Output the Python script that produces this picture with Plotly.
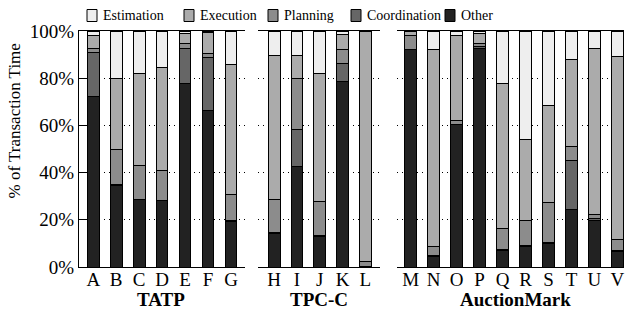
import plotly.graph_objects as go

# ---------------- data ----------------
series_names = ["Other", "Coordination", "Planning", "Execution", "Estimation"]
series_colors = ["#222222", "#666666", "#8c8c8c", "#ababab", "#eeeeee"]

tatp_cats = ["A", "B", "C", "D", "E", "F", "G"]
tatp_other = [72.2, 34.5, 28.4, 28.0, 77.8, 66.2, 19.2]
tatp_coord = [18.8, 0.4, 0.3, 0.3, 14.8, 22.7, 0.3]
tatp_plan = [1.6, 15.0, 14.1, 12.7, 1.9, 1.6, 11.4]
tatp_exec = [5.3, 30.1, 39.3, 43.6, 4.5, 8.8, 55.0]
tatp_est = [2.1, 20.0, 17.9, 15.4, 1.0, 0.7, 14.1]

tpcc_cats = ["H", "I", "J", "K", "L"]
tpcc_other = [14.3, 42.5, 13.1, 78.8, 0.0]
tpcc_coord = [0.3, 15.8, 0.3, 7.5, 0.3]
tpcc_plan = [14.2, 21.7, 14.3, 5.9, 2.2]
tpcc_exec = [61.0, 9.8, 54.4, 6.5, 97.5]
tpcc_est = [10.2, 10.2, 17.9, 1.3, 0.0]

am_cats = ["M", "N", "O", "P", "Q", "R", "S", "T", "U", "V"]
am_other = [92.0, 4.4, 60.2, 92.6, 7.2, 8.9, 9.9, 24.4, 19.5, 6.5]
am_coord = [0.3, 0.3, 0.2, 1.0, 0.3, 0.3, 0.4, 20.6, 1.1, 0.3]
am_plan = [5.6, 3.9, 1.5, 0.9, 8.8, 10.4, 17.1, 6.0, 1.7, 4.7]
am_exec = [2.1, 83.6, 36.0, 4.5, 61.5, 34.5, 41.2, 37.1, 70.3, 77.5]
am_est = [0.0, 7.8, 2.1, 1.0, 22.2, 45.9, 31.4, 11.9, 7.4, 11.0]

group_labels = ["TATP", "TPC-C", "AuctionMark"]
y_ticks = [0, 20, 40, 60, 80, 100]
y_ticklabels = ["0%", "20%", "40%", "60%", "80%", "100%"]

# ---------------- figure ----------------
W, H = 631, 312
SERIF = "Liberation Serif, Times New Roman, Times, serif"

def px_x(p):
    return p / W

def px_y(p):
    return (H - p) / H

panels = [
    (tatp_cats, [tatp_other, tatp_coord, tatp_plan, tatp_exec, tatp_est], "x", [79, 245], [-0.62, 6.61]),
    (tpcc_cats, [tpcc_other, tpcc_coord, tpcc_plan, tpcc_exec, tpcc_est], "x2", [258, 380], [-0.71, 4.64]),
    (am_cats, [am_other, am_coord, am_plan, am_exec, am_est], "x3", [397, 624], [-0.60, 9.29]),
]

fig = go.Figure()
for pi, (cats, vals, xa, dom, rng) in enumerate(panels):
    for si, name in enumerate(series_names):
        fig.add_trace(go.Bar(
            x=cats, y=vals[si], name=name, xaxis=xa, yaxis="y",
            marker=dict(color=series_colors[si], line=dict(color="#000000", width=1)),
            showlegend=False, legendgroup=name, width=0.51,
        ))

ydom = [px_y(267), px_y(31)]

layout = dict(
    width=W, height=H, margin=dict(l=0, r=0, t=0, b=0, pad=0, autoexpand=False),
    paper_bgcolor="white", plot_bgcolor="white",
    barmode="stack",
    font=dict(family=SERIF, color="#000000"),
    showlegend=False,
    yaxis=dict(domain=ydom, range=[0, 100], tickvals=y_ticks, ticktext=y_ticklabels,
               ticks="inside", ticklen=8, tickcolor="#000", showline=True, linecolor="#000",
               linewidth=1, showgrid=True, gridcolor="#000", griddash="1px,4px", gridwidth=1,
               zeroline=False, tickfont=dict(family=SERIF, size=19, color="#000"),
               anchor="x", fixedrange=True, automargin=False),
    yaxis2=dict(domain=ydom, range=[0, 100], tickvals=y_ticks, showticklabels=False,
                ticks="inside", ticklen=8, tickcolor="#000", showline=True, linecolor="#000",
                linewidth=1, showgrid=False, zeroline=False, overlaying="y", side="right",
                anchor="x3", automargin=False),
)
for pi, (cats, vals, xa, dom, rng) in enumerate(panels):
    key = "xaxis" if xa == "x" else "xaxis" + xa[1:]
    layout[key] = dict(domain=[px_x(dom[0]), px_x(dom[1])], range=rng, type="category",
                       tickmode="array", tickvals=cats, ticktext=cats,
                       showline=True, mirror=True, linecolor="#000", linewidth=1,
                       ticks="", showgrid=False, zeroline=False, anchor="y", automargin=False,
                       ticklabelstandoff=-5,
                       tickfont=dict(family=SERIF, size=19, color="#000"))
fig.update_layout(**layout)

# legend (key boxes + labels, in reference order)
legend_order = ["Estimation", "Execution", "Planning", "Coordination", "Other"]
legend_box_left = [87, 184, 268, 351, 445]
for name, bx in zip(legend_order, legend_box_left):
    col = series_colors[series_names.index(name)]
    fig.add_shape(type="rect", xref="paper", yref="paper",
                  x0=px_x(bx), x1=px_x(bx + 10), y0=px_y(21.5), y1=px_y(9.5),
                  fillcolor=col, line=dict(color="#000", width=1))
    fig.add_annotation(text=name, x=px_x(bx + 14), y=px_y(15.5), xref="paper", yref="paper",
                       xanchor="left", yanchor="middle", showarrow=False,
                       font=dict(family=SERIF, size=14, color="#000"))

# group labels
group_x = [161, 319, 515]
for lab, gx in zip(group_labels, group_x):
    fig.add_annotation(text="<b>%s</b>" % lab, x=px_x(gx), y=px_y(299), xref="paper", yref="paper",
                       xanchor="center", yanchor="middle", showarrow=False,
                       font=dict(family=SERIF, size=19, color="#000"))

fig.add_annotation(text="% of Transaction Time", x=px_x(14.5), y=px_y(121), xref="paper", yref="paper",
                   xanchor="center", yanchor="middle", textangle=-90, showarrow=False,
                   font=dict(family=SERIF, size=17, color="#000"))

fig.write_html("out.html", config={"displayModeBar": False},
               post_script="document.body.style.margin='0px';")
